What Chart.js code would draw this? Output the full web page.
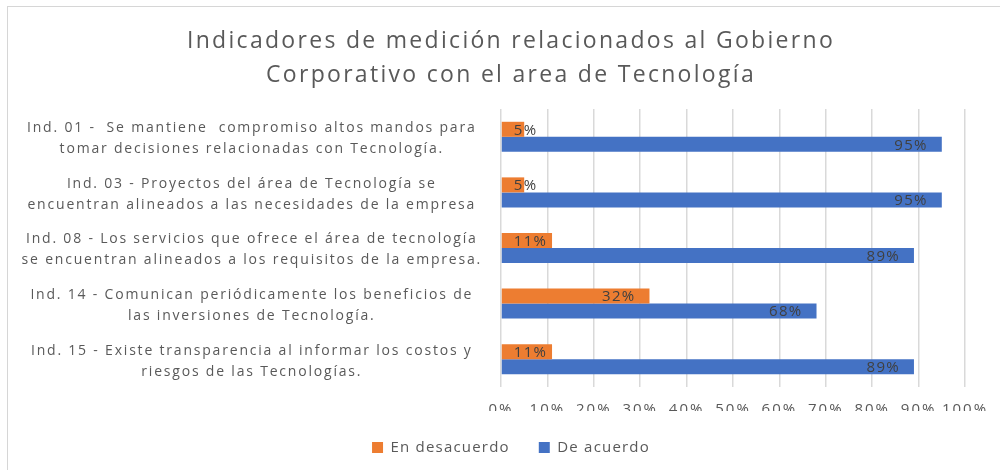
<!DOCTYPE html>
<html>
<head>
<meta charset="utf-8">
<script src="https://cdn.jsdelivr.net/npm/chart.js@4/dist/chart.umd.min.js"></script>
<style>
  html, body { margin: 0; padding: 0; background: #fff; overflow: hidden; width: 1000px; height: 470px; }
  #frame { position: absolute; left: 7px; top: 6px; width: 1100px; height: 600px; border-left: 1px solid #d6d6d6; border-top: 1px solid #d6d6d6; }
  #c { position: absolute; left: 0; top: 0; }
</style>
</head>
<body>
<div id="frame"></div>
<canvas id="c" width="1020" height="470"></canvas>
<script>
const titleLines = ['Indicadores de medición relacionados al Gobierno', 'Corporativo con el area de Tecnología'];
const categories = [
  ['Ind. 01 -  Se mantiene  compromiso altos mandos para', 'tomar decisiones relacionadas con Tecnología.'],
  ['Ind. 03 - Proyectos del área de Tecnología se', 'encuentran alineados a las necesidades de la empresa'],
  ['Ind. 08 - Los servicios que ofrece el área de tecnología', 'se encuentran alineados a los requisitos de la empresa.'],
  ['Ind. 14 - Comunican periódicamente los beneficios de', 'las inversiones de Tecnología.'],
  ['Ind. 15 - Existe transparencia al informar los costos y', 'riesgos de las Tecnologías.']
];
const seriesNames = ['En desacuerdo', 'De acuerdo'];
const desacuerdo = [5, 5, 11, 32, 11];
const deAcuerdo = [95, 95, 89, 68, 89];
const xTicks = [0, 10, 20, 30, 40, 50, 60, 70, 80, 90, 100];

const FONT = "'Open Sans', 'Liberation Sans', sans-serif";

const labelPlugin = {
  id: 'insideEndLabels',
  afterDatasetsDraw(chart) {
    const ctx = chart.ctx;
    ctx.save();
    ctx.font = '15px ' + FONT;
    ctx.letterSpacing = '1.3px';
    ctx.fillStyle = '#404040';
    ctx.textAlign = 'left';
    ctx.textBaseline = 'middle';
    chart.data.datasets.forEach((ds, di) => {
      const meta = chart.getDatasetMeta(di);
      meta.data.forEach((bar, i) => {
        const txt = ds.data[i] + '%';
        const w = ctx.measureText(txt).width;
        const x = Math.max(bar.x - 14 - w, bar.base + 12);
        ctx.fillText(txt, x, bar.y + 1);
      });
    });
    ctx.restore();
  }
};

const chart = new Chart(document.getElementById('c'), {
  type: 'bar',
  data: {
    labels: categories,
    datasets: [
      { label: seriesNames[0], data: desacuerdo, backgroundColor: '#ED7D31', borderWidth: 0 },
      { label: seriesNames[1], data: deAcuerdo, backgroundColor: '#4472C4', borderWidth: 0 }
    ]
  },
  options: {
    indexAxis: 'y',
    responsive: false,
    animation: false,
    events: [],
    categoryPercentage: 0.54,
    barPercentage: 1.0,
    layout: { padding: { left: 10, right: 8, top: 0, bottom: 5 } },
    scales: {
      x: {
        min: 0, max: 100,
        afterBuildTicks(scale) { scale.ticks = xTicks.map(v => ({ value: v })); },
        afterFit(scale) { scale.height = 24; },
        ticks: {
          callback: v => v + '%',
          color: '#595959',
          font: { family: FONT, size: 15 },
          padding: 14,
          maxRotation: 0,
          autoSkip: false
        },
        grid: { color: '#d9d9d9', lineWidth: 1.5, drawTicks: false },
        border: { display: false }
      },
      y: {
        afterFit(scale) { scale.width = 491; },
        ticks: {
          crossAlign: 'center',
          padding: 19,
          labelOffset: 2,
          color: '#595959',
          font: { family: FONT, size: 14, lineHeight: '21px' },
          autoSkip: false
        },
        grid: { display: false, drawTicks: false },
        border: { display: false }
      },
      yRightSpace: {
        type: 'linear',
        position: 'right',
        display: true,
        afterFit(scale) { scale.width = 47; },
        ticks: { display: false },
        grid: { display: false, drawTicks: false },
        border: { display: false }
      }
    },
    plugins: {
      title: {
        display: true,
        text: titleLines,
        color: '#595959',
        font: { family: FONT, size: 23, weight: 'normal', lineHeight: '34px' },
        padding: { top: 24, bottom: 17 }
      },
      legend: {
        position: 'bottom',
        labels: {
          color: '#595959',
          font: { family: FONT, size: 15 },
          boxWidth: 11,
          boxHeight: 11,
          padding: 29
        }
      },
      tooltip: { enabled: false }
    }
  },
  plugins: [labelPlugin]
});

function withSpacing(obj, name, sp) {
  const orig = obj[name];
  obj[name] = function (...args) {
    const ctx = this.ctx;
    const prev = ctx.letterSpacing;
    ctx.letterSpacing = sp;
    try { return orig.apply(this, args); } finally { ctx.letterSpacing = prev || '0px'; }
  };
}
withSpacing(chart.titleBlock, 'draw', '2.3px');
withSpacing(chart.legend, 'update', '1.2px');
withSpacing(chart.legend, 'draw', '1.2px');
withSpacing(chart.scales.y, 'update', '1.8px');
withSpacing(chart.scales.y, 'drawLabels', '1.8px');
withSpacing(chart.scales.x, 'update', '2px');
withSpacing(chart.scales.x, 'drawLabels', '2px');
chart.scales.y._longestTextCache = {};
chart.scales.x._longestTextCache = {};
chart.update();
</script>
</body>
</html>
